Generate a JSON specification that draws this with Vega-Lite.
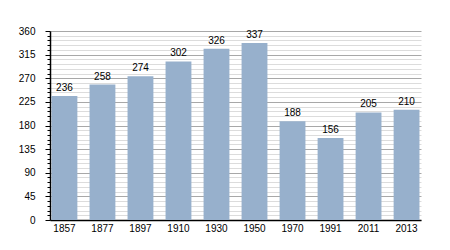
{
  "$schema": "https://vega.github.io/schema/vega-lite/v6.json",
  "autosize": "none",
  "width": 371,
  "height": 189,
  "padding": {"left": 50, "top": 31, "right": 29, "bottom": 30},
  "background": "white",
  "data": {"values": [
    {"year": "1857", "pop": 236},
    {"year": "1877", "pop": 258},
    {"year": "1897", "pop": 274},
    {"year": "1910", "pop": 302},
    {"year": "1930", "pop": 326},
    {"year": "1950", "pop": 337},
    {"year": "1970", "pop": 188},
    {"year": "1991", "pop": 156},
    {"year": "2011", "pop": 205},
    {"year": "2013", "pop": 210}
  ]},
  "config": {
    "view": {"stroke": null},
    "font": "Liberation Sans",
    "axis": {"labelFont": "Liberation Sans", "labelColor": "#000", "labelFontSize": 10}
  },
  "encoding": {
    "x": {
      "field": "year", "type": "ordinal", "sort": null,
      "scale": {"paddingInner": 0.32, "paddingOuter": 0.04},
      "axis": {"title": null, "labelAngle": 0, "ticks": false, "labelPadding": 3, "domainColor": "#000", "domainWidth": 1.5, "grid": false}
    },
    "y": {
      "field": "pop", "type": "quantitative",
      "scale": {"domain": [0, 360], "nice": false},
      "axis": {
        "title": null,
        "values": [0,9,18,27,36,45,54,63,72,81,90,99,108,117,126,135,144,153,162,171,180,189,198,207,216,225,234,243,252,261,270,279,288,297,306,315,324,333,342,351,360],
        "labelExpr": "datum.value % 45 === 0 ? datum.label : ''",
        "grid": true,
        "gridColor": {"condition": {"test": "datum.value % 45 === 0", "value": "#a8a8a8"}, "value": "#dcdcdc"},
        "gridWidth": 1,
        "tickSize": {"condition": {"test": "datum.value % 45 === 0", "value": 5}, "value": 3},
        "tickColor": "#000",
        "domainColor": "#000",
        "domainWidth": 1.5,
        "labelPadding": 10
      }
    }
  },
  "layer": [
    {"mark": {"type": "bar", "color": "#97b0cc"}},
    {
      "mark": {"type": "text", "baseline": "bottom", "dy": -3, "fontSize": 10, "color": "#000"},
      "encoding": {"text": {"field": "pop", "type": "quantitative"}}
    }
  ]
}
